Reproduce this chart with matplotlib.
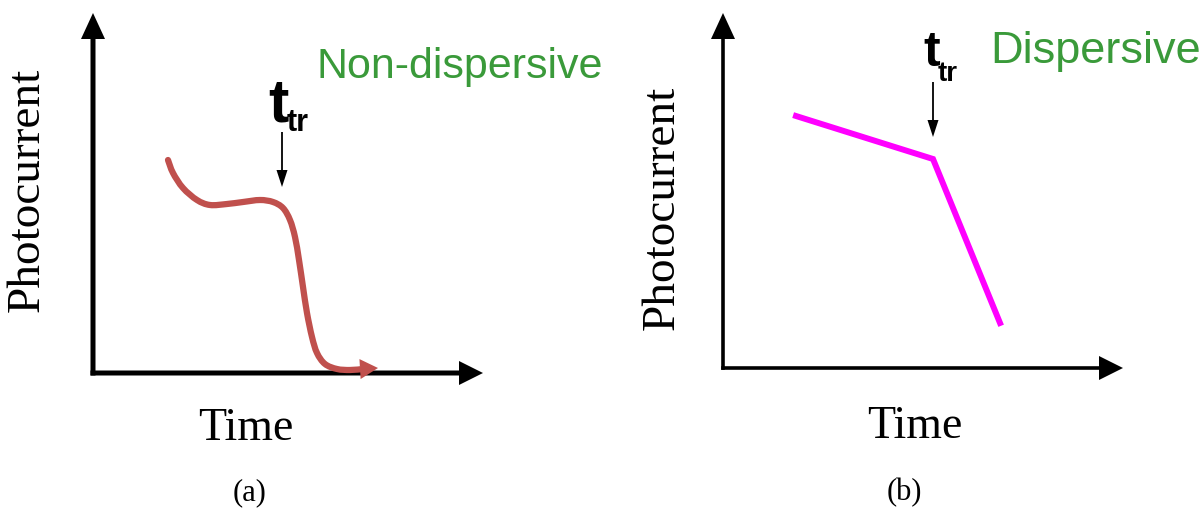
import matplotlib
matplotlib.use("Agg")
import matplotlib.pyplot as plt
from matplotlib.path import Path
from matplotlib.patches import PathPatch

# panel (a): non-dispersive transient (time, photocurrent) in arbitrary units
time_a = [75, 80, 90, 104, 117, 134, 150, 167, 180, 190, 197, 202, 206, 210,
          214, 219, 224, 232, 244, 257, 270, 285]
current_a = [213, 200, 185, 173, 168, 169, 171, 173, 171, 165, 153, 136, 113,
             86, 60, 36, 20, 9, 4, 3, 4, 5]

# panel (b): dispersive transient
time_b = [73, 210, 277]
current_b = [252, 209, 45]

# transit time markers (time, arrow top, arrow bottom)
ttr_a = [189, 241, 186]
ttr_b = [210, 286, 231]

titles = ["Non-dispersive", "Dispersive"]
panel_labels = ["(a)", "(b)"]
xlabel = "Time"
ylabel = "Photocurrent"

green = "#3a9a3a"
red = "#c0504d"
magenta = "#ff00ff"

fig = plt.figure(figsize=(12.04, 5.08), dpi=100)
ax_a = fig.add_axes([0, 0, 0.5, 1])
ax_b = fig.add_axes([0.5, 0, 0.5, 1])
# limits in pixels relative to each panel's origin
ax_a.set_xlim(-93, 509)
ax_a.set_ylim(-135, 373)
ax_b.set_xlim(-121, 481)
ax_b.set_ylim(-140, 368)
for ax in (ax_a, ax_b):
    ax.axis("off")


def draw_axes(ax, xlen, ylen, w):
    ax.arrow(-w / 2, 0, xlen + w / 2, 0, width=w, head_width=24, head_length=24,
             length_includes_head=True, color="black", lw=0)
    ax.arrow(0, -w / 2, 0, ylen + w / 2, width=w, head_width=24, head_length=26,
             length_includes_head=True, color="black", lw=0)


def smooth_path(xs, ys):
    # Catmull-Rom through the points, drawn as cubic Bezier segments
    pts = list(zip(xs, ys))
    verts = [pts[0]]
    codes = [Path.MOVETO]
    for i in range(len(pts) - 1):
        p0 = pts[max(i - 1, 0)]
        p1 = pts[i]
        p2 = pts[i + 1]
        p3 = pts[min(i + 2, len(pts) - 1)]
        c1 = (p1[0] + (p2[0] - p0[0]) / 6, p1[1] + (p2[1] - p0[1]) / 6)
        c2 = (p2[0] - (p3[0] - p1[0]) / 6, p2[1] - (p3[1] - p1[1]) / 6)
        verts += [c1, c2, p2]
        codes += [Path.CURVE4] * 3
    return Path(verts, codes)


draw_axes(ax_a, 390, 360, 5)
draw_axes(ax_b, 400, 355, 3.6)

# curves
ax_a.add_patch(PathPatch(smooth_path(time_a[:-1], current_a[:-1]), fill=False,
                         edgecolor=red, lw=4.5, capstyle="round",
                         joinstyle="round", zorder=3))
ax_a.arrow(time_a[-2] - 2, current_a[-2], time_a[-1] - time_a[-2] + 2,
           current_a[-1] - current_a[-2], width=4.5, head_width=20, head_length=18,
           length_includes_head=True, color=red, lw=0, zorder=3)
ax_b.plot(time_b, current_b, color=magenta, lw=4.3, solid_joinstyle="miter", zorder=3)

# t_tr markers
for ax, (tx, top, bot), ts, ss, dy in ((ax_a, ttr_a, 44, 22, 10),
                                       (ax_b, ttr_b, 36, 20, 16)):
    ax.arrow(tx, top, 0, bot - top, width=1.8, head_width=11, head_length=17,
             length_includes_head=True, color="black", lw=0)
    ax.text(tx + 7, top + dy, "t", fontsize=ts, family="Liberation Sans",
            fontweight="bold", ha="right", va="baseline")
    ax.text(tx + 5, top + 1, "tr", fontsize=ss, family="Liberation Sans",
            fontweight="bold", ha="left", va="baseline")

ax_a.text(223, 295, titles[0], fontsize=31, color=green, family="Liberation Sans",
          ha="left", va="baseline")
ax_b.text(267, 305, titles[1], fontsize=32.5, color=green, family="Liberation Sans",
          ha="left", va="baseline")

for ax, ylx, yly, tx, ty in ((ax_a, -66, 183, 153, -67), (ax_b, -61, 160, 192, -70)):
    ax.text(ylx, yly, ylabel, fontsize=34, family="Liberation Serif",
            rotation=90, ha="center", va="center")
    ax.text(tx, ty, xlabel, fontsize=33, family="Liberation Serif",
            ha="center", va="baseline")

ax_a.text(157, -120, panel_labels[0], fontsize=22, family="Liberation Serif",
          ha="center", va="center")
ax_b.text(181, -125, panel_labels[1], fontsize=22, family="Liberation Serif",
          ha="center", va="center")

fig.savefig("out.png", dpi=100)
